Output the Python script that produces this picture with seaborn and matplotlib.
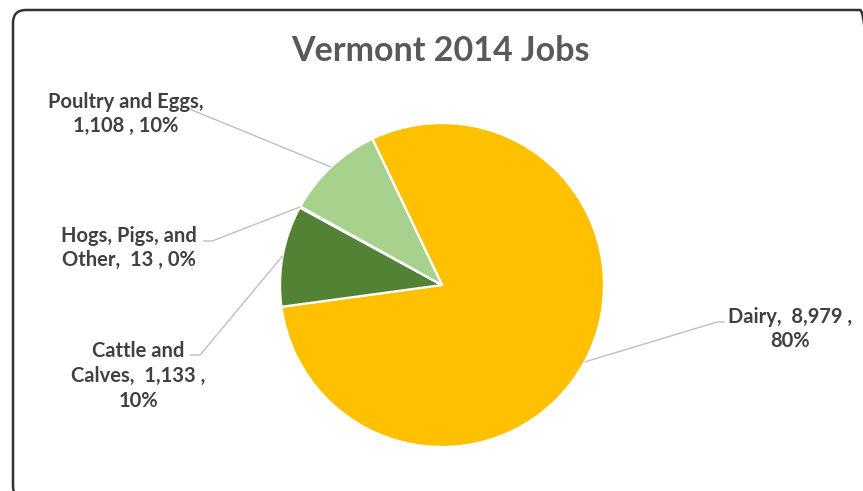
import matplotlib
matplotlib.use("Agg")
import matplotlib.pyplot as plt
from matplotlib.patches import FancyBboxPatch
import numpy as np
import seaborn as sns

# Vermont agricultural jobs, 2014
categories = ["Dairy", "Cattle and Calves", "Hogs, Pigs, and Other", "Poultry and Eggs"]
jobs = [8979, 1133, 13, 1108]
colors = ["#FFC000", "#548235", "#70AD47", "#A9D18E"]
title = "Vermont 2014 Jobs"

sns.set_theme(style="white")
plt.rcParams["font.family"] = ["Lato", "DejaVu Sans"]

W, H = 863, 491
fig = plt.figure(figsize=(W / 100, H / 100), dpi=100)
ax = fig.add_axes([0, 0, 1, 1])

center = (442, H - 285)
radius = 162
wedges, _ = ax.pie(jobs, colors=colors, startangle=115.5, counterclock=False,
                   center=center, radius=radius,
                   wedgeprops=dict(edgecolor="white", linewidth=1.6))
ax.set_xlim(0, W)
ax.set_ylim(0, H)
ax.set_aspect("auto")
ax.axis("off")

total = sum(jobs)


def fmt(v):
    return f"{v:,}"


def pct(v):
    return f"{round(100 * v / total)}%"


label_text = {
    "Dairy": "Dairy,  {v} ,\n{p}",
    "Cattle and Calves": "Cattle and\nCalves,  {v} ,\n{p}",
    "Hogs, Pigs, and Other": "Hogs, Pigs, and\nOther,  {v} , {p}",
    "Poultry and Eggs": "Poultry and Eggs,\n{v} , {p}",
}
# text centre, leader start, optional elbow (pixel positions, y measured from top)
label_layout = {
    "Dairy": ((790, 329), (725, 322), (717, 322)),
    "Cattle and Calves": ((138, 376), (190, 355), (200, 355)),
    "Hogs, Pigs, and Other": ((129, 248), (203, 241), (212, 241)),
    "Poultry and Eggs": ((126, 114), (187, 108), None),
}

for cat, v, w in zip(categories, jobs, wedges):
    mid = np.deg2rad((w.theta1 + w.theta2) / 2)
    ex = center[0] + radius * np.cos(mid)
    ey = center[1] + radius * np.sin(mid)
    (tx, ty), start, elbow = label_layout[cat]
    pts = [start] + ([elbow] if elbow else [])
    xs = [p[0] for p in pts] + [ex]
    ys = [H - p[1] for p in pts] + [ey]
    ax.plot(xs, ys, color="#BFBFBF", lw=1.0, solid_capstyle="butt", zorder=1)
    ax.text(tx, H - ty, label_text[cat].format(v=fmt(v), p=pct(v)),
            ha="center", va="center", fontsize=14.5, fontweight="bold",
            color="#404040", linespacing=1.3)

ax.text(440, H - 51, title, ha="center", va="center", fontsize=24.5,
        fontweight="bold", color="#595959")

# rounded chart frame, running past the right and bottom edges
frame = FancyBboxPatch((13, -8), 860, H - 10 + 8,
                       boxstyle="round,pad=0,rounding_size=13",
                       fill=False, edgecolor="#333333", linewidth=1.8,
                       clip_on=False, transform=ax.transData)
ax.add_patch(frame)

fig.savefig("out.png", dpi=100, facecolor="white")
